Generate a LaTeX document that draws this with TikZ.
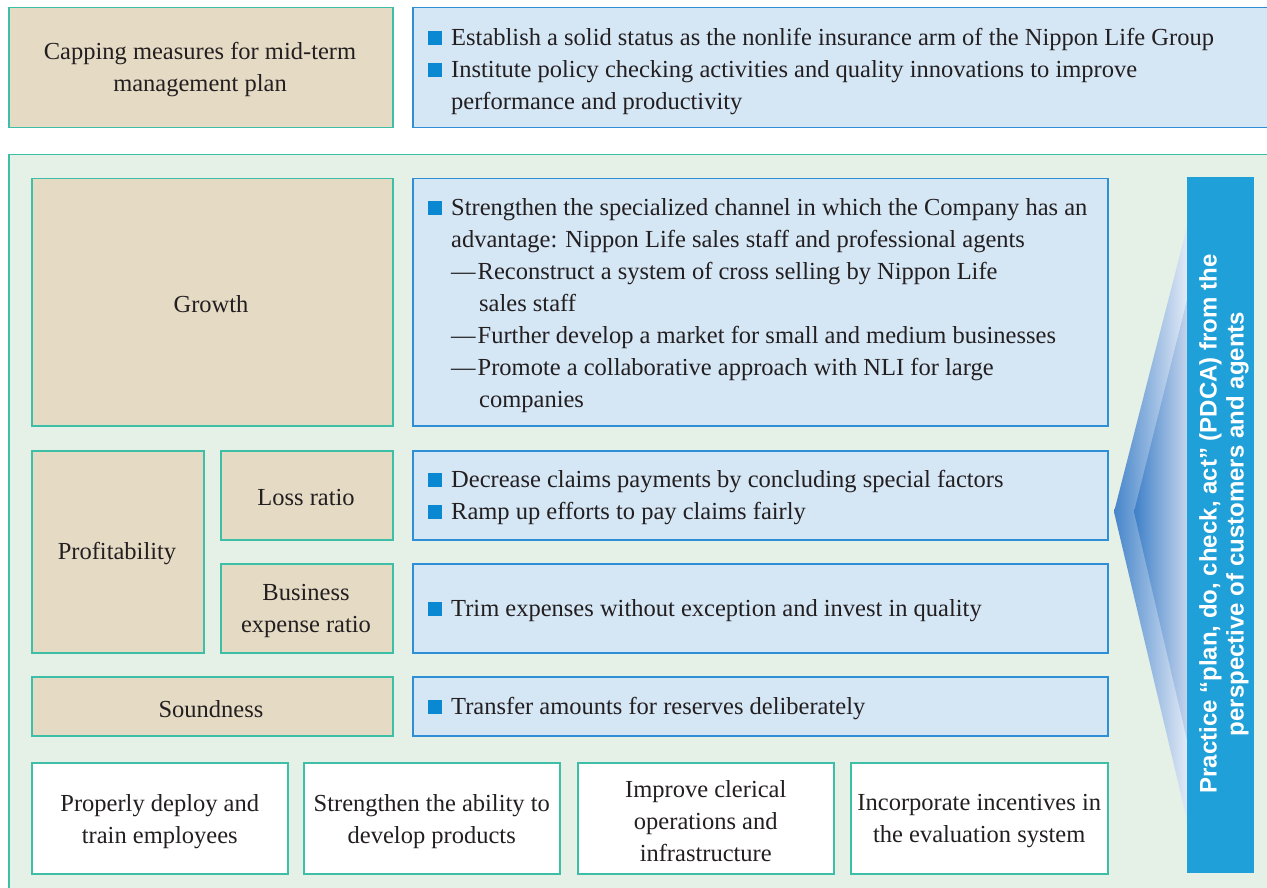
\documentclass[tikz,border=0pt]{standalone}
\usepackage{fontspec}
\setmainfont{Liberation Serif}
\newfontfamily\sidefont{Liberation Sans}
\usetikzlibrary{shadings}
\definecolor{tan}{HTML}{E5DBC5}
\definecolor{teal}{HTML}{3CBFA6}
\definecolor{lblue}{HTML}{D5E6F5}
\definecolor{bblue}{HTML}{2E8FD6}
\definecolor{panel}{HTML}{E5F1E7}
\definecolor{bul}{HTML}{0A88D2}
\definecolor{side}{HTML}{1FA0D8}
\definecolor{ink}{HTML}{231F20}
\definecolor{wdark}{HTML}{4686CA}
\definecolor{wlight}{HTML}{E2E9F6}
\definecolor{wdark2}{HTML}{3E80C8}
\definecolor{wlight2}{HTML}{C4D4EC}
\newcommand\bsq{\textcolor{bul}{\rule[1pt]{14pt}{14pt}}\hspace{9pt}}
\newcommand\ind{\hspace*{23pt}}
\newcommand\dind{\hspace*{51pt}}
\newcommand\dsh{\hspace*{23pt}---\hspace{2pt}}
\tikzset{
  tanbox/.style={draw=teal, fill=tan, line width=1.5pt, anchor=north west, inner sep=0pt},
  bluebox/.style={draw=bblue, fill=lblue, line width=1.5pt, anchor=north west, inner sep=0pt},
  whitebox/.style={draw=teal, fill=white, line width=1.5pt, anchor=north west, inner sep=0pt},
  lbl/.style={inner sep=0pt, align=center, text=ink, font=\fontsize{24.5}{32}\selectfont},
  blk/.style={inner sep=0pt, align=left, anchor=west, text=ink, font=\fontsize{24.5}{32}\selectfont},
}
\begin{document}
\begin{tikzpicture}[x=1pt,y=-1pt]
\useasboundingbox (0,0) rectangle (1267,888);
\fill[white] (0,0) rectangle (1267,888);
% top row
\node[tanbox, minimum width=384pt, minimum height=120pt] (cap) at (8,7) {};
\node[bluebox, minimum width=870pt, minimum height=120pt] (capt) at (412,7) {};
\node[lbl] (capl) at (200,70) {Capping measures for mid-term\\management plan};
\node[blk] (capb) at (428,72) {\bsq Establish a solid status as the nonlife insurance arm of the Nippon Life Group\\
\bsq Institute policy checking activities and quality innovations to improve\\
\ind performance and productivity};
% panel
\node[draw=teal, fill=panel, line width=1.5pt, anchor=north west, inner sep=0pt, minimum width=1270pt, minimum height=745pt] (panel) at (8,154) {};
% growth
\node[tanbox, minimum width=361pt, minimum height=247pt] (gr) at (31,178) {};
\node[lbl] (grl) at (211,304) {Growth};
\node[bluebox, minimum width=695pt, minimum height=247pt] (grt) at (412,178) {};
\node[blk] (grb) at (428,306) {\bsq Strengthen the specialized channel in which the Company has an\\
\ind advantage: Nippon Life sales staff and professional agents\\
\dsh Reconstruct a system of cross selling by Nippon Life\\
\dind sales staff\\
\dsh Further develop a market for small and medium businesses\\
\dsh Promote a collaborative approach with NLI for large\\
\dind companies};
% profitability
\node[tanbox, minimum width=172pt, minimum height=202pt] (pr) at (31,450) {};
\node[lbl] (prl) at (117,554) {Profitability};
\node[tanbox, minimum width=172pt, minimum height=89pt] (lr) at (220,450) {};
\node[lbl] (lrl) at (306,498) {Loss ratio};
\node[tanbox, minimum width=172pt, minimum height=89pt] (br) at (220,563) {};
\node[lbl] (brl) at (306,611) {Business\\expense ratio};
\node[bluebox, minimum width=695pt, minimum height=89pt] (lrt) at (412,450) {};
\node[blk] (lrb) at (428,498) {\bsq Decrease claims payments by concluding special factors\\
\bsq Ramp up efforts to pay claims fairly};
\node[bluebox, minimum width=695pt, minimum height=89pt] (brt) at (412,563) {};
\node[blk] (brb) at (428,611) {\bsq Trim expenses without exception and invest in quality};
% soundness
\node[tanbox, minimum width=361pt, minimum height=59pt] (so) at (31,676) {};
\node[lbl] (sol) at (211,709) {Soundness};
\node[bluebox, minimum width=695pt, minimum height=59pt] (sot) at (412,676) {};
\node[blk] (sob) at (428,709) {\bsq Transfer amounts for reserves deliberately};
% bottom boxes
\node[whitebox, minimum width=256pt, minimum height=111pt] (b1) at (31,762) {};
\node[lbl] at ([yshift=-3pt]b1.center) {Properly deploy and\\train employees};
\node[whitebox, minimum width=256pt, minimum height=111pt] (b2) at (303,762) {};
\node[lbl] at ([yshift=-3pt]b2.center) {Strengthen the ability to\\develop products};
\node[whitebox, minimum width=256pt, minimum height=111pt] (b3) at (577,762) {};
\node[lbl] at ([yshift=-3pt]b3.center) {Improve clerical\\operations and\\infrastructure};
\node[whitebox, minimum width=257pt, minimum height=111pt] (b4) at (850,762) {};
\node[lbl] at ([yshift=-3pt]b4.center) {Incorporate incentives in\\the evaluation system};
% wedges
\shade[left color=wdark, right color=wlight]
  (1187,227) -- (1114,512) -- (1187,820) -- cycle;
\shade[left color=wdark2, right color=wlight2]
  (1187,300) -- (1134,512) -- (1187,740) -- cycle;
% sidebar
\node[fill=side, anchor=north west, inner sep=0pt, minimum width=67pt, minimum height=696pt] (bar) at (1187,177) {};
\node[rotate=90, inner sep=0pt, align=center, text=white, font=\sidefont\bfseries\fontsize{24}{27}\selectfont] (barl) at (1224,524)
  {Practice “plan, do, check, act” (PDCA) from the\\perspective of customers and agents};
\end{tikzpicture}
\end{document}
